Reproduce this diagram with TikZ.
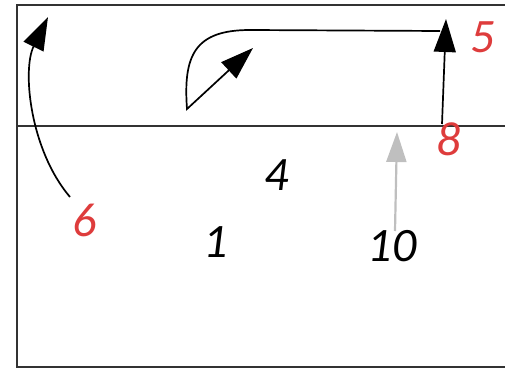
\documentclass[tikz,border=0pt]{standalone}
\usepackage{fontspec}
\setmainfont{Carlito}
\usetikzlibrary{arrows.meta}
\definecolor{numred}{RGB}{222,60,60}
\definecolor{frame}{RGB}{50,50,50}
\tikzset{
  court/.style={draw=frame, line width=2.8pt},
  num/.style={font=\fontsize{48}{48}\selectfont\itshape, inner sep=0pt},
  rednum/.style={num, text=numred},
  move/.style={draw=black, line width=1.7pt, -{Triangle[length=33pt,width=22pt]}},
  grayarrow/.style={draw=black!25, line width=2.2pt, -{Triangle[length=30pt,width=20pt]}}
}
\begin{document}
\begin{tikzpicture}[x=1pt,y=-1pt]
\useasboundingbox (0,0) rectangle (505,371);
\draw[court] (17,5) rectangle (508,367);
\draw[court] (17,126) -- (508,126);
% labels
\node[rednum] (n5) at (483,37) {5};
\node[rednum] (n8) at (449,139) {8};
\node[rednum] (n6) at (85,220) {6};
\node[num] (n4) at (277,175) {4};
\node[num] (n1) at (216,242) {1};
\node[num] (n10) at (392,246) {10};
% anchors
\coordinate (p8) at (442,124);
\coordinate (p5) at (446,19);
\coordinate (p6) at (70,197);
\coordinate (t6) at (48,17);
\coordinate (c1) at (440,31);
\coordinate (c2) at (250,30);
\coordinate (c3) at (187,109);
\coordinate (c4) at (253,48);
\coordinate (g1) at (395,231);
\coordinate (g2) at (397,132);
% arrows
\draw[move] (p8) -- (p5);
\draw[move] (p6) .. controls (30,150) and (22,70) .. (t6);
\draw[move] (c1) -- (c2) .. controls (195,30) and (183,55) .. (c3) -- (c4);
\draw[grayarrow] (g1) -- (g2);
\end{tikzpicture}
\end{document}
